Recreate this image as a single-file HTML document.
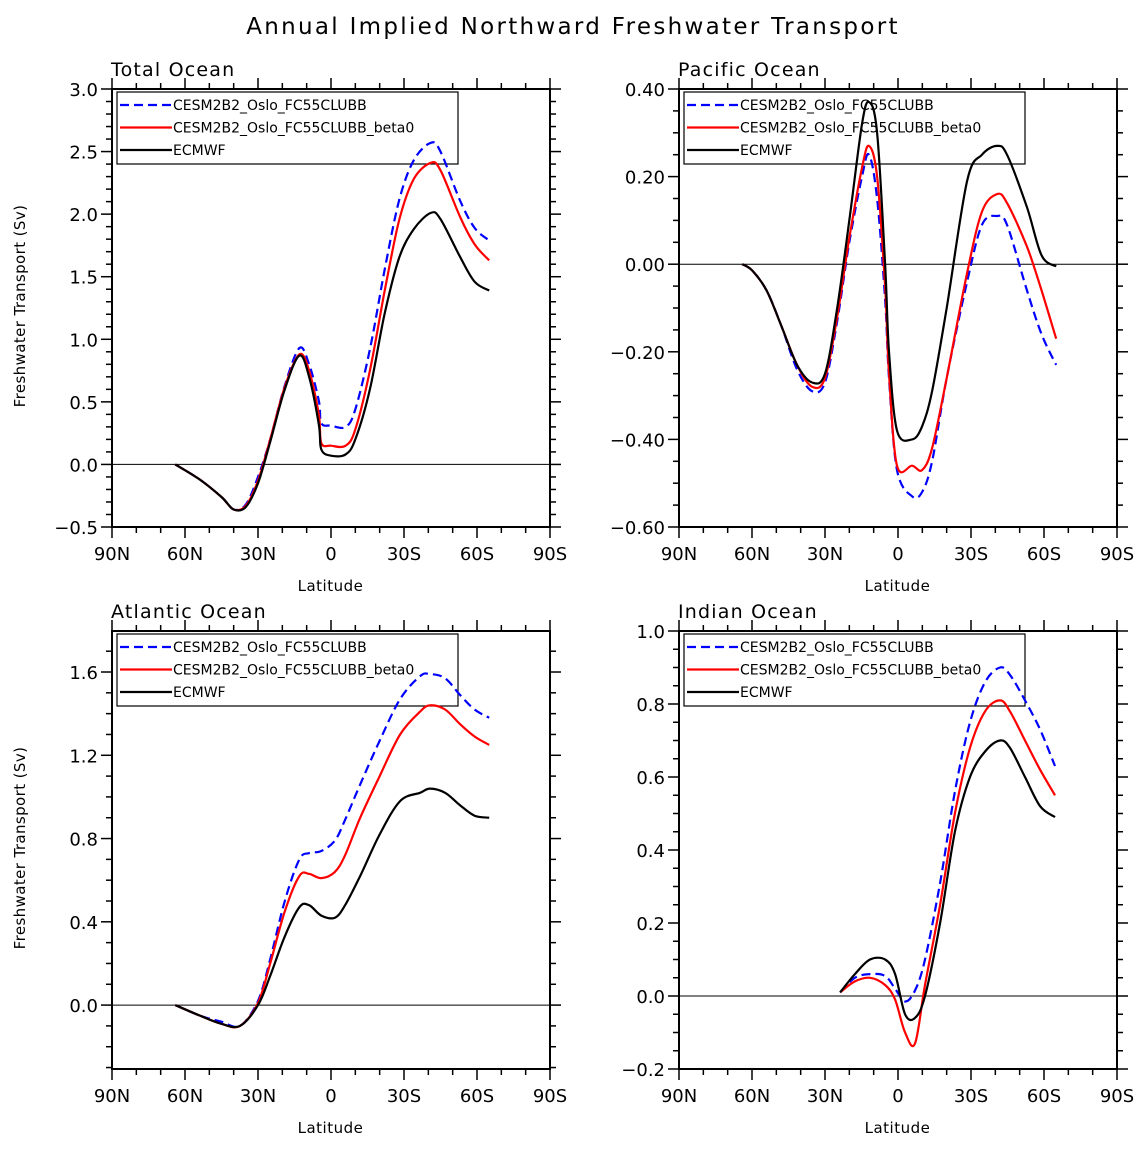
<!DOCTYPE html>
<html><head><meta charset="utf-8"><style>
body{margin:0;background:#fff;}
svg text{font-family:"DejaVu Sans","Liberation Sans",sans-serif;fill:#000;}
</style></head><body>
<svg id="chart" width="1146" height="1148" viewBox="0 0 1146 1148" xmlns="http://www.w3.org/2000/svg">
<text x="573" y="34" text-anchor="middle" font-size="23" letter-spacing="2.3">Annual Implied Northward Freshwater Transport</text>
</svg>
<script>
const totLat=[64,54,45,40,35,30,25,19,13,9,5,4,0,-6,-10,-16,-22,-28,-34,-41,-45,-53,-59,-65];
const totBlue=[0,-0.12,-0.26,-0.36,-0.32,-0.1,0.2,0.63,0.93,0.8,0.51,0.33,0.31,0.3,0.44,0.92,1.55,2.11,2.43,2.57,2.5,2.11,1.89,1.79];
const totRed=[0,-0.12,-0.26,-0.36,-0.33,-0.13,0.2,0.62,0.88,0.75,0.4,0.17,0.15,0.15,0.28,0.75,1.38,1.95,2.28,2.41,2.35,1.98,1.76,1.63];
const totBlack=[0,-0.12,-0.26,-0.36,-0.34,-0.15,0.18,0.6,0.87,0.7,0.32,0.12,0.07,0.08,0.2,0.6,1.2,1.65,1.88,2.01,1.96,1.66,1.46,1.39];
const pacLat=[64,60,54,48,41.5,35.3,30,25,20,14.8,11.9,8.6,5.3,3.7,0.4,-5.8,-9.9,-14,-20,-28.4,-34.5,-40.7,-44.8,-53,-59,-65];
const pacBlue=[0,-0.014,-0.06,-0.14,-0.24,-0.29,-0.27,-0.13,0.05,0.2,0.25,0.15,-0.08,-0.26,-0.47,-0.53,-0.52,-0.45,-0.26,-0.04,0.09,0.11,0.09,-0.06,-0.16,-0.23];
const pacRed=[0,-0.014,-0.06,-0.14,-0.23,-0.28,-0.26,-0.12,0.06,0.22,0.27,0.2,-0.05,-0.25,-0.46,-0.46,-0.47,-0.42,-0.26,-0.02,0.12,0.16,0.14,0.04,-0.06,-0.17];
const pacBlack=[0,-0.014,-0.06,-0.14,-0.23,-0.27,-0.25,-0.1,0.1,0.32,0.37,0.3,0.0,-0.2,-0.38,-0.4,-0.37,-0.29,-0.1,0.19,0.25,0.27,0.25,0.13,0.02,-0.005];
const atlLat=[64,54,45,37.4,30,25,19,13,9,4,-1.6,-5.8,-12,-20,-28.4,-36.6,-40.7,-46.9,-53,-59,-65];
const atlBlue=[0,-0.05,-0.08,-0.1,0.02,0.22,0.5,0.7,0.73,0.74,0.79,0.89,1.06,1.27,1.47,1.58,1.59,1.57,1.49,1.42,1.38];
const atlRed=[0,-0.05,-0.09,-0.1,0.01,0.2,0.45,0.62,0.63,0.61,0.64,0.72,0.9,1.1,1.3,1.41,1.44,1.42,1.35,1.29,1.25];
const atlBlack=[0,-0.05,-0.09,-0.1,0.0,0.14,0.33,0.47,0.48,0.43,0.42,0.48,0.62,0.82,0.98,1.02,1.04,1.02,0.96,0.91,0.9];
const indLat=[23.8,17.7,11.5,5.3,1.2,-2.9,-7,-11.1,-17.3,-23.4,-29.6,-35.8,-41.9,-46,-52.2,-58.4,-64.5];
const indBlue=[0.01,0.05,0.06,0.055,0.02,-0.015,0.015,0.1,0.31,0.56,0.75,0.86,0.9,0.88,0.81,0.73,0.63];
const indRed=[0.01,0.04,0.05,0.03,-0.01,-0.1,-0.13,0.03,0.25,0.5,0.68,0.78,0.81,0.78,0.7,0.62,0.55];
const indBlack=[0.01,0.06,0.1,0.1,0.06,-0.05,-0.06,0.0,0.2,0.45,0.6,0.67,0.7,0.68,0.6,0.52,0.49];
const xTicks=[90,60,30,0,-30,-60,-90];
const xTickLabels=["90N","60N","30N","0","30S","60S","90S"];
const legendLabels=["CESM2B2_Oslo_FC55CLUBB","CESM2B2_Oslo_FC55CLUBB_beta0","ECMWF"];

const NS="http://www.w3.org/2000/svg";
const svg=document.getElementById('chart');
function mk(tag,attrs,parent){const e=document.createElementNS(NS,tag);for(const k in attrs)e.setAttribute(k,attrs[k]);(parent||svg).appendChild(e);return e;}

const panels=[
 {name:'total',title:'Total Ocean',x0:112,y0:89,ymin:-0.5,ymax:3.0,major:0.5,minor:0.1,dec:1,lat:totLat,s:[totBlue,totRed,totBlack],yt:true},
 {name:'pacific',title:'Pacific Ocean',x0:679,y0:89,ymin:-0.6,ymax:0.4,major:0.2,minor:0.05,dec:2,lat:pacLat,s:[pacBlue,pacRed,pacBlack],yt:false},
 {name:'atlantic',title:'Atlantic Ocean',x0:112,y0:631,ymin:-0.307,ymax:1.797,major:0.4,minor:0.1,dec:1,lat:atlLat,s:[atlBlue,atlRed,atlBlack],yt:true},
 {name:'indian',title:'Indian Ocean',x0:679,y0:631,ymin:-0.2,ymax:1.0,major:0.2,minor:0.05,dec:1,lat:indLat,s:[indBlue,indRed,indBlack],yt:false}
];
const W=438,H=438;
function smooth(pts){let d='M'+pts[0][0].toFixed(1)+','+pts[0][1].toFixed(1);
 for(let i=0;i<pts.length-1;i++){const p0=pts[Math.max(0,i-1)],p1=pts[i],p2=pts[i+1],p3=pts[Math.min(pts.length-1,i+2)];
  const c1=[p1[0]+(p2[0]-p0[0])/6,p1[1]+(p2[1]-p0[1])/6],c2=[p2[0]-(p3[0]-p1[0])/6,p2[1]-(p3[1]-p1[1])/6];
  d+=' C'+c1[0].toFixed(1)+','+c1[1].toFixed(1)+' '+c2[0].toFixed(1)+','+c2[1].toFixed(1)+' '+p2[0].toFixed(1)+','+p2[1].toFixed(1);}
 return d;}
const colors=['#0000ff','#ff0000','#000000'];
panels.forEach(p=>{
 const g=mk('g',{});
 
 
 const X=lat=>p.x0+(90-lat)/180*W;
 const Y=v=>p.y0+H-(v-p.ymin)/(p.ymax-p.ymin)*H;
 const z=mk('line',{x1:p.x0,x2:p.x0+W,y1:Y(0),y2:Y(0),stroke:'#000','stroke-width':1},g);
 
 
 // legend (transparent, under curves)
 const lg=mk('g',{},g);
 
 
 mk('rect',{x:p.x0+5,y:p.y0+3,width:341,height:72,fill:'none',stroke:'#000','stroke-width':1.2},lg);
 legendLabels.forEach((lab,k)=>{const y=p.y0+16+k*22.5;
  const ln=mk('line',{x1:p.x0+8,x2:p.x0+60,y1:y,y2:y,stroke:colors[k],'stroke-width':2.2},lg);
  if(k===0)ln.setAttribute('stroke-dasharray','9,5');
  const t=mk('text',{x:p.x0+61,y:y+5,'font-size':14},lg);t.textContent=lab;
  
  });
 p.s.forEach((vals,k)=>{
  const pts=p.lat.map((l,i)=>[X(l),Y(vals[i])]);
  const path=mk('path',{d:smooth(pts),fill:'none',stroke:colors[k],'stroke-width':2.2},g);
  if(k===0)path.setAttribute('stroke-dasharray','9,5');
  
  
 });
 const fr=mk('rect',{x:p.x0,y:p.y0,width:W,height:H,fill:'none',stroke:'#000','stroke-width':2},g);
 
 
 for(let lat=90;lat>=-90;lat-=10){const x=X(lat);const maj=lat%30===0;const L=maj?11:6;
  mk('line',{x1:x,x2:x,y1:p.y0+H,y2:p.y0+H+L,stroke:'#000','stroke-width':1.5},g);
  mk('line',{x1:x,x2:x,y1:p.y0,y2:p.y0-L,stroke:'#000','stroke-width':1.5},g);}
 xTicks.forEach((t,i)=>{const tx=mk('text',{x:X(t),y:p.y0+H+33,'text-anchor':'middle','font-size':18},g);tx.textContent=xTickLabels[i];
  
  });
 const xt=mk('text',{x:p.x0+W/2-0.5,y:p.y0+H+64,'text-anchor':'middle','font-size':15,'letter-spacing':0.5},g);xt.textContent='Latitude';
 
 
 const eps=1e-6;
 const startMin=Math.ceil((p.ymin-eps)/p.minor)*p.minor;
 for(let v=startMin;v<=p.ymax+eps;v+=p.minor){const y=Y(v);const r=v/p.major;const maj=Math.abs(r-Math.round(r))<1e-4;const L=maj?11:6;
  mk('line',{x1:p.x0,x2:p.x0-L,y1:y,y2:y,stroke:'#000','stroke-width':1.5},g);
  mk('line',{x1:p.x0+W,x2:p.x0+W+L,y1:y,y2:y,stroke:'#000','stroke-width':1.5},g);
  if(maj){let s=(Math.abs(v)<eps?0:v).toFixed(p.dec);if(s[0]==='-')s='\u2212'+s.slice(1);
   const ty=mk('text',{x:p.x0-14,y:y+7,'text-anchor':'end','font-size':18},g);ty.textContent=s;
   
   }}
 if(p.yt){const yt=mk('text',{x:0,y:0,'text-anchor':'middle','font-size':15,'letter-spacing':0.4,transform:`translate(25,${p.y0+H/2-2}) rotate(-90)`},g);yt.textContent='Freshwater Transport (Sv)';
  
  }
 const tt=mk('text',{x:p.x0-1,y:p.y0-13,'font-size':19,'letter-spacing':1.2},g);tt.textContent=p.title;
 
 
});
</script>
</body></html>
